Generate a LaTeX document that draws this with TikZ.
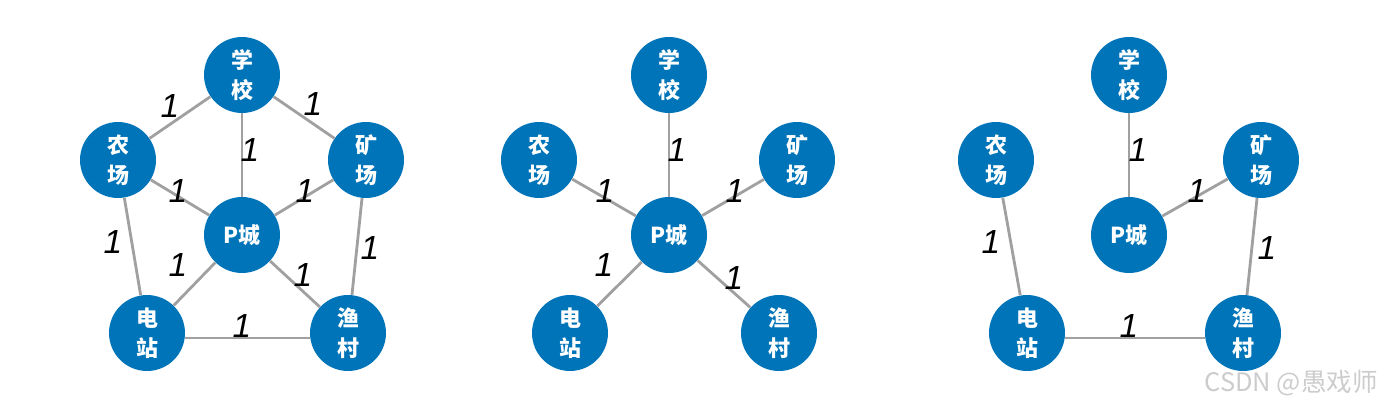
\documentclass[tikz,border=0pt]{standalone}
\usepackage{fontspec}
\setmainfont{Liberation Sans}
\newfontfamily\cjkfont{Noto Sans CJK SC}
\definecolor{townblue}{RGB}{0,116,184}
\definecolor{roadgray}{RGB}{160,160,160}

\begin{document}
\begin{tikzpicture}[
    x=0.02cm, y=-0.02cm,
    town/.style={circle, fill=townblue, minimum size=1.52cm, inner sep=0pt, align=center, text=white, font=\cjkfont\bfseries\fontsize{12.5}{17}\selectfont},
    road/.style={draw=roadgray, line width=1.6pt},
    wt/.style={font=\itshape\fontsize{19}{19}\selectfont, text=black, inner sep=0pt},
    watermark/.style={font=\cjkfont\fontsize{14.5}{14.5}\selectfont, text=black!20}
]
\useasboundingbox (0,0) rectangle (1386,406);

% full graph
\node[town] (school1) at (242,75) {学\\校};
\node[town] (farm1) at (118,160) {农\\场};
\node[town] (mine1) at (366,160) {矿\\场};
\node[town] (city1) at (242,235) {P城};
\node[town] (plant1) at (147,333) {电\\站};
\node[town] (village1) at (348,333) {渔\\村};

\draw[road] (school1) -- (farm1);
\draw[road] (school1) -- (mine1);
\draw[road] (school1) -- (city1);
\draw[road] (farm1) -- (city1);
\draw[road] (mine1) -- (city1);
\draw[road] (farm1) -- (plant1);
\draw[road] (mine1) -- (village1);
\draw[road] (plant1) -- (city1);
\draw[road] (village1) -- (city1);
\draw[road] ([yshift=-0.1cm]plant1.east) -- ([yshift=-0.1cm]village1.west);

\node[wt] (w1a) at (170,106) {1};
\node[wt] (w1b) at (313,104) {1};
\node[wt] (w1c) at (250,150) {1};
\node[wt] (w1d) at (178,191) {1};
\node[wt] (w1e) at (305,191) {1};
\node[wt] (w1f) at (113,242) {1};
\node[wt] (w1g) at (370,248) {1};
\node[wt] (w1h) at (178,265) {1};
\node[wt] (w1i) at (303,275) {1};
\node[wt] (w1j) at (242,326) {1};

% star
\node[town] (school2) at (669,75) {学\\校};
\node[town] (farm2) at (539,160) {农\\场};
\node[town] (mine2) at (797,160) {矿\\场};
\node[town] (city2) at (669,235) {P城};
\node[town] (plant2) at (570,333) {电\\站};
\node[town] (village2) at (779,333) {渔\\村};

\draw[road] (school2) -- (city2);
\draw[road] (farm2) -- (city2);
\draw[road] (mine2) -- (city2);
\draw[road] (plant2) -- (city2);
\draw[road] (village2) -- (city2);

\node[wt] (w2a) at (677,150) {1};
\node[wt] (w2b) at (605,191) {1};
\node[wt] (w2c) at (735,191) {1};
\node[wt] (w2d) at (604,265) {1};
\node[wt] (w2e) at (734,278) {1};

% chain
\node[town] (school3) at (1129,75) {学\\校};
\node[town] (farm3) at (996,160) {农\\场};
\node[town] (mine3) at (1261,160) {矿\\场};
\node[town] (city3) at (1129,235) {P城};
\node[town] (plant3) at (1027,333) {电\\站};
\node[town] (village3) at (1243,333) {渔\\村};

\draw[road] (school3) -- (city3);
\draw[road] (mine3) -- (city3);
\draw[road] (farm3) -- (plant3);
\draw[road] (mine3) -- (village3);
\draw[road] ([yshift=-0.1cm]plant3.east) -- ([yshift=-0.1cm]village3.west);

\node[wt] (w3a) at (1138,150) {1};
\node[wt] (w3b) at (1197,191) {1};
\node[wt] (w3c) at (991,242) {1};
\node[wt] (w3d) at (1267,248) {1};
\node[wt] (w3e) at (1129,326) {1};

\node[watermark] (csdn) at (1291,383) {CSDN @愚戏师};

\end{tikzpicture}
\end{document}
